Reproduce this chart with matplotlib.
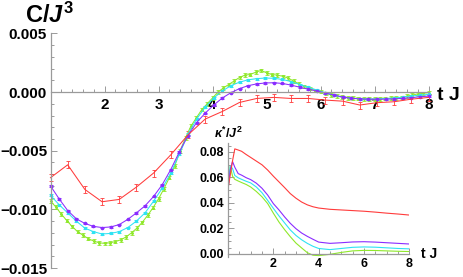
#!/usr/bin/env python3
"""C(t)/J^3 with error bars for four system sizes, inset kappa*(t)/J^2.

Mathematica-like look: axes crossing at zero, grey axis lines, inward ticks.
Output: out.png (463x277 px)
"""

import numpy as np
import matplotlib
matplotlib.use("Agg")
import matplotlib.pyplot as plt
from matplotlib.ticker import FixedLocator, FixedFormatter, MultipleLocator

plt.rcParams["font.family"] = ["Liberation Sans", "DejaVu Sans"]
plt.rcParams["font.weight"] = "bold"
plt.rcParams["mathtext.fontset"] = "custom"
plt.rcParams["mathtext.rm"] = "Liberation Sans:bold"
plt.rcParams["mathtext.it"] = "Liberation Sans:italic:bold"
plt.rcParams["mathtext.bf"] = "Liberation Sans:bold"

# ---- main panel data (units of 1e-3) ----
t_red = np.linspace(1.0, 8.0, 23)
c_red = [-7.3, -6.2, -8.3, -9.35, -9.15, -8.1, -6.9, -5.35, -3.65, -2.3,
         -1.65, -0.88, -0.54, -0.45, -0.54, -0.54, -0.68, -0.77, -1.1, -0.9,
         -0.82, -0.6, -0.45]
e_red = 0.30

t_mid = np.linspace(1.0, 8.0, 45)
c_purple = [-8.0, -9.1, -10.1, -10.8, -11.2, -11.45, -11.55, -11.5, -11.3,
            -10.85, -10.3, -9.7, -8.9, -7.9, -6.6, -5.1, -3.7, -2.6, -1.8,
            -1.1, -0.5, -0.05, 0.3, 0.55, 0.7, 0.78, 0.8, 0.74, 0.6, 0.42,
            0.25, 0.1, -0.08, -0.25, -0.42, -0.52, -0.58, -0.6, -0.6, -0.6,
            -0.58, -0.53, -0.47, -0.4, -0.34]
e_purple = 0.06
c_cyan = [-8.8, -9.6, -10.3, -11.0, -11.6, -11.9, -12.1, -12.05, -11.9,
          -11.55, -11.0, -10.3, -9.3, -8.2, -6.9, -5.3, -3.6, -2.3, -1.3,
          -0.5, 0.1, 0.55, 0.85, 1.05, 1.15, 1.2, 1.18, 1.08, 0.9, 0.65,
          0.42, 0.18, -0.05, -0.28, -0.42, -0.52, -0.57, -0.6, -0.58, -0.55,
          -0.5, -0.42, -0.33, -0.26, -0.2]
e_cyan = 0.08

t_green = np.linspace(1.0, 8.0, 71)
c_green = [-9.3, -9.8, -10.4, -10.95, -11.45, -11.9, -12.2, -12.5, -12.7,
           -12.85, -12.9, -12.85, -12.75, -12.6, -12.35, -12.0, -11.6, -11.1,
           -10.5, -9.85, -9.1, -8.25, -7.3, -6.3, -5.0, -3.9, -2.9, -2.2,
           -1.5, -1.0, -0.5, 0.0, 0.35, 0.65, 0.95, 1.25, 1.45, 1.5, 1.7,
           1.85, 1.65, 1.5, 1.45, 1.35, 1.2, 0.95, 0.7, 0.5, 0.3, 0.12, 0.05,
           -0.1, -0.25, -0.35, -0.42, -0.48, -0.5, -0.55, -0.58, -0.6, -0.6,
           -0.58, -0.55, -0.52, -0.5, -0.45, -0.35, -0.25, -0.15, -0.1, -0.05]
e_green = 0.15

# ---- inset data: kappa*/J^2 ----
t_ins = [0, 0.1, 0.2, 0.3, 0.45, 0.6, 0.8, 1.0, 1.25, 1.5, 1.75, 2.0, 2.25,
         2.5, 2.75, 3.0, 3.25, 3.5, 3.75, 4.0, 4.5, 5.0, 5.5, 6.0, 6.5, 7.0,
         7.5, 8.0]
k_red = [0.051, 0.062, 0.073, 0.0824, 0.0815, 0.0805, 0.078, 0.0757, 0.0728,
         0.0699, 0.0658, 0.061, 0.0565, 0.052, 0.0473, 0.0437, 0.0407, 0.0385,
         0.037, 0.036, 0.035, 0.0345, 0.034, 0.0335, 0.0328, 0.032, 0.0313,
         0.0305]
k_purple = [0.051, 0.066, 0.0725, 0.068, 0.063, 0.0618, 0.0598, 0.0583,
            0.0555, 0.0515, 0.0462, 0.0395, 0.0345, 0.029, 0.024, 0.0198,
            0.0164, 0.0138, 0.0115, 0.0093, 0.0083, 0.0088, 0.0094, 0.0096,
            0.0093, 0.0088, 0.0083, 0.0078]
k_cyan = [0.051, 0.069, 0.067, 0.0615, 0.0597, 0.0585, 0.057, 0.0557, 0.0525,
          0.048, 0.042, 0.0358, 0.0298, 0.0243, 0.0188, 0.0145, 0.0111,
          0.0083, 0.006, 0.0043, 0.0034, 0.0043, 0.0052, 0.0055, 0.0053,
          0.0048, 0.0043, 0.004]
k_green = [0.051, 0.069, 0.061, 0.0585, 0.0572, 0.056, 0.0545, 0.0525, 0.049,
           0.0448, 0.0395, 0.032, 0.025, 0.019, 0.0135, 0.0085, 0.0047,
           0.001, -0.001, -0.0013, -0.0003, 0.0012, 0.0024, 0.0028, 0.0027,
           0.0024, 0.0021, 0.0019]

main_yticks = [-0.015, -0.010, -0.005, 0.0, 0.005]
main_ylabels = ["\u22120.015", "\u22120.010", "\u22120.005", "0.000", "0.005"]
main_xticks = [2, 3, 4, 5, 6, 7, 8]
ins_yticks = [0.0, 0.02, 0.04, 0.06, 0.08]
ins_ylabels = ["0.00", "0.02", "0.04", "0.06", "0.08"]
ins_xticks = [2, 4, 6, 8]

RED = "#ff3b3b"
PURPLE = "#8a2cff"
CYAN = "#2ee3f3"
GREEN = "#8fe82a"
AXC = "#9a9a9a"

W, H = 463, 277


def style_axes(ax, x0, y0):
    ax.patch.set_alpha(0)
    for s in ("top", "right"):
        ax.spines[s].set_visible(False)
    ax.spines["bottom"].set_position(("data", y0))
    ax.spines["left"].set_position(("data", x0))
    for s in ("bottom", "left"):
        ax.spines[s].set_color(AXC)
        ax.spines[s].set_linewidth(0.9)
    ax.tick_params(which="both", direction="in", color=AXC, width=0.7)
    ax.tick_params(which="major", length=4)
    ax.tick_params(which="minor", length=2.2)


fig = plt.figure(figsize=(W / 100, H / 100), dpi=100)

ax = fig.add_axes([50.5 / W, 9 / H, 378 / W, 234.5 / H])
ax.set_xlim(1.0, 8.0)
ax.set_ylim(-0.015, 0.005)
style_axes(ax, 1.0, 0.0)
ax.yaxis.set_major_locator(FixedLocator(main_yticks))
ax.yaxis.set_major_formatter(FixedFormatter(main_ylabels))
ax.yaxis.set_minor_locator(MultipleLocator(0.001))
ax.xaxis.set_major_locator(FixedLocator(main_xticks))
ax.xaxis.set_minor_locator(MultipleLocator(0.2))
ax.tick_params(axis="y", labelsize=11, pad=2.5)
ax.tick_params(axis="x", labelsize=11, pad=4)

series = [
    (t_green, c_green, e_green, GREEN, "o", 1.1),
    (t_mid, c_cyan, e_cyan, CYAN, "s", 1.3),
    (t_mid, c_purple, e_purple, PURPLE, "o", 1.6),
    (t_red, c_red, e_red, RED, "", 0),
]
for t, c, e, col, mk, ms in series:
    y = np.asarray(c) * 1e-3
    ax.errorbar(t, y, yerr=e * 1e-3, color=col, lw=0.75, elinewidth=0.6,
                capsize=1.6, capthick=0.6, marker=mk or None, ms=ms,
                mec=col, mfc=col, clip_on=False)

fig.text(50 / W, 1 - 23 / H, r"C/$J^{3}$", fontsize=17, ha="center",
         va="baseline")
fig.text(437 / W, 1 - 100 / H, "t J", fontsize=14, ha="left", va="baseline")

# ---- inset ----
axi = fig.add_axes([228 / W, (H - 256.5) / H, 181.3 / W, 113.5 / H])
axi.set_xlim(0, 8)
axi.set_ylim(-0.002, 0.087)
style_axes(axi, 0.0, 0.0)
axi.yaxis.set_major_locator(FixedLocator(ins_yticks))
axi.yaxis.set_major_formatter(FixedFormatter(ins_ylabels))
axi.yaxis.set_minor_locator(MultipleLocator(0.005))
axi.xaxis.set_major_locator(FixedLocator(ins_xticks))
axi.xaxis.set_minor_locator(MultipleLocator(0.5))
axi.tick_params(axis="both", labelsize=9, pad=3)

for k, col in [(k_green, GREEN), (k_cyan, CYAN), (k_purple, PURPLE),
               (k_red, RED)]:
    axi.plot(t_ins, k, color=col, lw=0.8)

fig.text(229 / W, 1 - 138 / H, r"$\kappa^{*}/J^{2}$", fontsize=9,
         ha="center", va="baseline")
fig.text(421 / W, 1 - 254 / H, "t J", fontsize=10, ha="left", va="center")

fig.savefig("out.png", dpi=100)
